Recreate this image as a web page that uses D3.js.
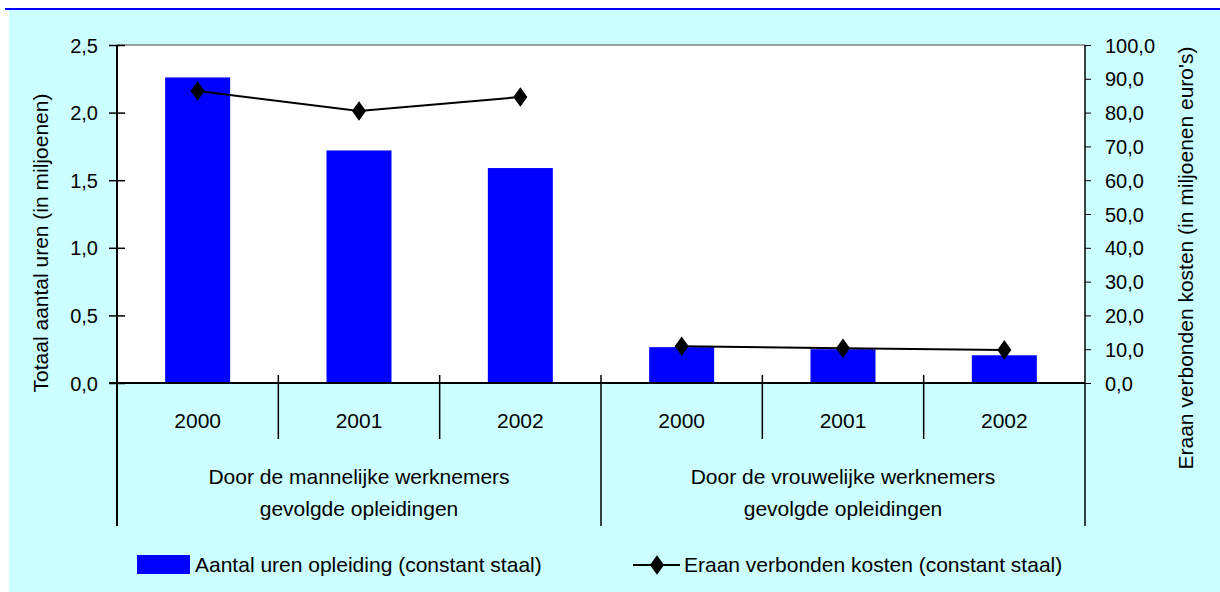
<!DOCTYPE html>
<html><head><meta charset="utf-8">
<script src="https://cdn.jsdelivr.net/npm/d3@7/dist/d3.min.js"></script>
<style>body{margin:0;background:#fff}svg{display:block}text{font-family:"Liberation Sans",Arial,sans-serif;fill:#000}</style>
</head><body><svg id="c" width="1220" height="592"></svg>
<script>
const years = ["2000","2001","2002","2000","2001","2002"];
const groups = [["Door de mannelijke werknemers","gevolgde opleidingen"],["Door de vrouwelijke werknemers","gevolgde opleidingen"]];
const hours = [2.26, 1.72, 1.59, 0.265, 0.25, 0.205];
const costs = [86.4, 80.5, 84.6, 10.9, 10.3, 9.8];
const leftTicks = [0,0.5,1,1.5,2,2.5];
const rightTicks = [0,10,20,30,40,50,60,70,80,90,100];
const seriesNames = ["Aantal uren opleiding (constant staal)","Eraan verbonden kosten (constant staal)"];

const svg = d3.select("#c");
svg.append("rect").attr("x",9).attr("y",10).attr("width",1211).attr("height",582).attr("fill","#CCFFFF");
svg.append("line").attr("x1",5).attr("x2",1220).attr("y1",9).attr("y2",9).attr("stroke","#0000FF").attr("stroke-width",2);

const L=117,R=1085,T=45,B=383;
const xb = d3.scaleBand().domain(d3.range(6)).range([L,R]);
const yL = d3.scaleLinear().domain([0,2.5]).range([B,T]);
const yR = d3.scaleLinear().domain([0,100]).range([B,T]);

svg.append("rect").attr("x",L).attr("y",T).attr("width",R-L).attr("height",B-T).attr("fill","#fff");
svg.append("line").attr("x1",L).attr("x2",R).attr("y1",T).attr("y2",T).attr("stroke","#808080").attr("stroke-width",1.5);

svg.selectAll("rect.bar").data(hours).join("rect").attr("class","bar")
 .attr("x",(d,i)=>xb(i)+(xb.bandwidth()-65)/2).attr("width",65)
 .attr("y",d=>yL(d)).attr("height",d=>B-yL(d)).attr("fill","#0000FF");

const fmt1 = d3.format(".1f");
const comma = v => fmt1(v).replace(".",",");
// left axis
const ga = svg.append("g").attr("transform",`translate(${L},0)`)
 .call(d3.axisLeft(yL).tickValues(leftTicks).tickFormat(comma).tickSize(8));
ga.select(".domain").remove();
ga.selectAll("line").attr("stroke","#000").attr("stroke-width",1.5).attr("x2",8).attr("x1",-8);
ga.selectAll("text").attr("font-size",20).attr("x",-19).attr("dy","0.35em").style("font-family",'"Liberation Sans",Arial,sans-serif');
// right axis
const gr = svg.append("g").attr("transform",`translate(${R},0)`)
 .call(d3.axisRight(yR).tickValues(rightTicks).tickFormat(comma).tickSize(6));
gr.select(".domain").remove();
gr.selectAll("line").attr("stroke","#000").attr("stroke-width",1);
gr.selectAll("text").attr("font-size",20).attr("x",20).attr("dy","0.35em").style("font-family",'"Liberation Sans",Arial,sans-serif');

// axis lines
svg.append("line").attr("x1",L).attr("x2",L).attr("y1",T).attr("y2",526).attr("stroke","#000").attr("stroke-width",2);
svg.append("line").attr("x1",R).attr("x2",R).attr("y1",T).attr("y2",526).attr("stroke","#000").attr("stroke-width",1.5);
svg.append("line").attr("x1",L-8).attr("x2",R).attr("y1",B).attr("y2",B).attr("stroke","#000").attr("stroke-width",2);
// category dividers
[1,2,4,5].forEach(i=>svg.append("line").attr("x1",xb(i)).attr("x2",xb(i)).attr("y1",375).attr("y2",439).attr("stroke","#000").attr("stroke-width",1.5));
svg.append("line").attr("x1",xb(3)).attr("x2",xb(3)).attr("y1",375).attr("y2",526).attr("stroke","#000").attr("stroke-width",1.5);

svg.selectAll("text.yr").data(years).join("text").attr("class","yr")
 .attr("x",(d,i)=>xb(i)+xb.bandwidth()/2).attr("y",428).attr("text-anchor","middle").attr("font-size",21).text(d=>d);
groups.forEach((g,k)=>{
  const cx = (xb(k*3)+xb(k*3+2)+xb.bandwidth())/2;
  g.forEach((t,j)=>svg.append("text").attr("x",cx).attr("y",484+j*32).attr("text-anchor","middle").attr("font-size",21).text(t));
});

// lines
const line = d3.line().x(d=>xb(d.i)+xb.bandwidth()/2).y(d=>yR(d.v));
[[0,1,2],[3,4,5]].forEach(idx=>{
  svg.append("path").datum(idx.map(i=>({i,v:costs[i]}))).attr("d",line).attr("fill","none").attr("stroke","#000").attr("stroke-width",2);
});
const diamond = d3.symbol().type(d3.symbolDiamond).size(110);
svg.selectAll("path.mk").data(costs).join("path").attr("class","mk")
 .attr("d",diamond).attr("transform",(d,i)=>`translate(${xb(i)+xb.bandwidth()/2},${yR(d)}) scale(1.25,1)`).attr("fill","#000");

// axis titles
svg.append("text").attr("transform","translate(48,243) rotate(-90)").attr("text-anchor","middle").attr("font-size",21).text("Totaal aantal uren (in miljoenen)");
svg.append("text").attr("transform","translate(1193,258) rotate(-90)").attr("text-anchor","middle").attr("font-size",21).text("Eraan verbonden kosten (in miljoenen euro's)");

// legend
svg.append("rect").attr("x",137).attr("y",555).attr("width",53).attr("height",19).attr("fill","#0000FF");
svg.append("text").attr("x",195).attr("y",572).attr("font-size",21).text(seriesNames[0]);
svg.append("line").attr("x1",633).attr("x2",680).attr("y1",565).attr("y2",565).attr("stroke","#000").attr("stroke-width",2);
svg.append("path").attr("d",diamond).attr("transform","translate(657,565) scale(1.25,1)").attr("fill","#000");
svg.append("text").attr("x",684).attr("y",572).attr("font-size",21).text(seriesNames[1]);
</script></body></html>
